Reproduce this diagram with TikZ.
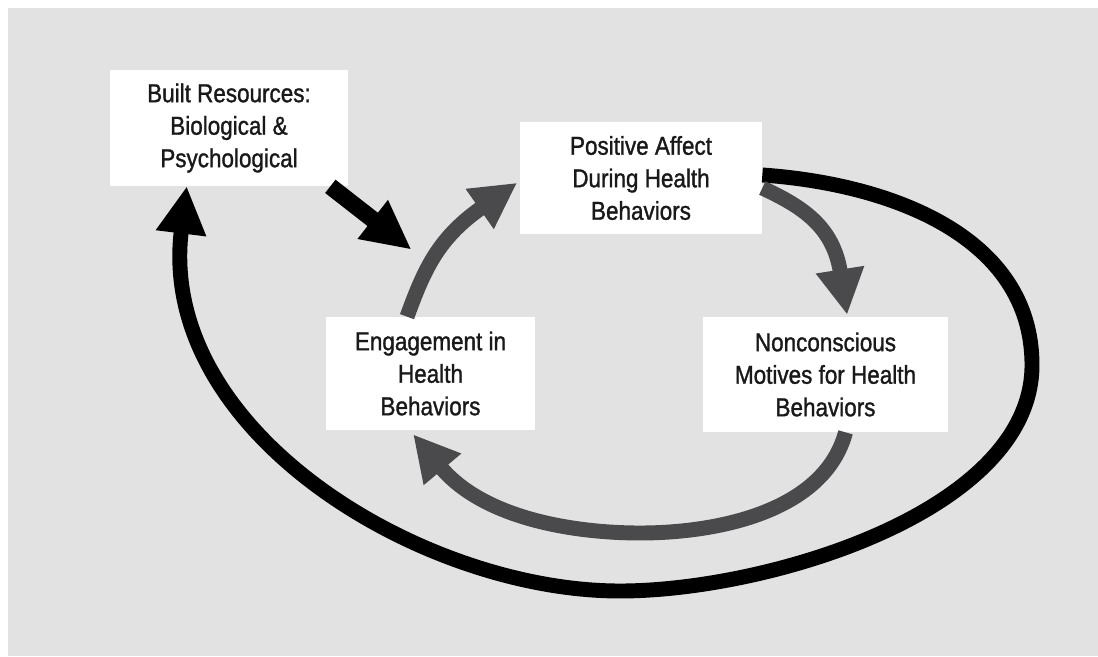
\documentclass[tikz,border=0pt]{standalone}
\usepackage{fontspec}
\setmainfont[FakeStretch=0.87, UprightFeatures={FakeBold=1.2}]{Liberation Sans}
\usetikzlibrary{arrows.meta, calc, positioning}
\definecolor{bggray}{HTML}{E2E2E2}
\definecolor{cyclegray}{HTML}{4A4A4D}

\begin{document}
\begin{tikzpicture}[x=0.02cm, y=0.02cm]
        \def\colornode{white}
        \def\colorloop{black}
        \def\colorcycle{cyclegray}
        \tikzset{factor/.style={
                align=center,
                fill=\colornode,
                inner sep=0pt,
                text=black!90,
                font=\fontsize{14.7}{18.5}\selectfont
        }}
        \tikzset{feedback/.style={
                draw=\colorloop,
                line width=8.5pt,
                shorten >=-27pt,
                -{Triangle[width=27pt,length=27pt]}
        }}
        \tikzset{cyclearrow/.style={
                draw=\colorcycle,
                line width=8.5pt,
                shorten >=-26pt,
                -{Triangle[width=26pt,length=26pt]}
        }}

        \useasboundingbox (0,0) rectangle (1098,-656);
        \fill[bggray] (8,-8) rectangle (1098,-656);

        \node[factor, minimum width=4.76cm, minimum height=2.32cm] (built) at (229,-128) {Built Resources:\\ Biological \&\\ Psychological};
        \node[factor, minimum width=4.84cm, minimum height=2.24cm] (posaff) at (641,-178) {Positive Affect\\ During Health\\ Behaviors};
        \node[factor, minimum width=4.18cm, minimum height=2.26cm] (engage) at (430.5,-373.5) {Engagement in\\ Health\\ Behaviors};
        \node[factor, minimum width=4.9cm, minimum height=2.3cm] (noncon) at (825.5,-374.5) {Nonconscious\\ Motives for Health\\ Behaviors};

        \coordinate (loopright) at (1032,-365);
        \coordinate (loopbottom) at (620,-591);
        \coordinate (cyclebottom) at (640,-533);

        % outer loop back to the resources
        \draw[feedback] ($(posaff.east)+(0,3)$) to[out=-4, in=90] (loopright)
                to[out=-90, in=0, looseness=0.8] (loopbottom)
                to[out=180, in=-97, looseness=0.9] ($(built.south)+(-48,-47)$);
        \draw[feedback, shorten >=0pt, line width=9.6pt, -{Triangle[width=26pt,length=28pt]}] ($(built.south east)+(-18,0)$) -- ($(engage.north)+(-19,67)$);

        % inner cycle
        \draw[cyclearrow] ($(engage.north)+(-23.5,0)$) to[out=70, in=-145] ($(posaff.west)+(-40,-31)$);
        \draw[cyclearrow] ($(posaff.east)+(0,-10)$) to[out=-25, in=99] ($(noncon.north)+(14.5,47)$);
        \draw[cyclearrow] ($(noncon.south)+(20,0)$) to[out=-105, in=0, looseness=0.9] (cyclebottom)
                to[out=180, in=-50, looseness=0.8] ($(engage.south)+(12,-39)$);
\end{tikzpicture}
\end{document}
